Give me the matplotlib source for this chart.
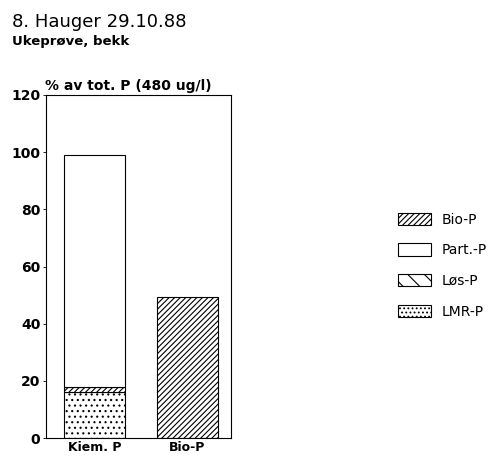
import matplotlib
matplotlib.use("Agg")
import matplotlib.pyplot as plt
from matplotlib.patches import Patch

plt.rcParams['font.family'] = ['DejaVu Sans']
plt.rcParams['hatch.linewidth'] = 0.8

categories = ["Kiem. P", "Bio-P"]
lmr_p = [16, 0]
los_p = [2, 0]
part_p = [81, 0]
bio_p = [0, 49.5]
legend_labels = ["Bio-P", "Part.-P", "Løs-P", "LMR-P"]
yticks = [0, 20, 40, 60, 80, 100, 120]

fig = plt.figure(figsize=(5.01, 4.57), dpi=100)
ax = fig.add_axes([46/501, 1-438/457, (231-46)/501, (438-95)/457])

x = [0, 1]
w = 0.66
ax.bar(x[0], lmr_p[0], w, color='white', edgecolor='black', hatch='...', lw=0.8)
ax.bar(x[0], los_p[0], w, bottom=lmr_p[0], color='white', edgecolor='black', hatch='//////', lw=0.8)
ax.bar(x[0], part_p[0], w, bottom=lmr_p[0]+los_p[0], color='white', edgecolor='black', lw=0.8)
ax.bar(x[1], bio_p[1], w, color='white', edgecolor='black', hatch='//////', lw=0.8)

ax.set_xlim(-0.52, 1.47)
ax.set_ylim(0, 120)
ax.set_yticks(yticks)
ax.set_yticklabels([str(t) for t in yticks], fontsize=10, fontweight='bold')
ax.set_xticks(x)
ax.set_xticklabels(categories, fontsize=9, fontweight='bold')
ax.tick_params(axis='x', length=0, pad=2.5)
ax.tick_params(axis='y', length=2.5, width=0.6, pad=1.5)
for s in ax.spines.values():
    s.set_linewidth(0.8)

fig.text(12/501, 1-22/457, "8. Hauger 29.10.88", fontsize=13, va='center', ha='left')
fig.text(12/501, 1-41/457, "Ukeprøve, bekk", fontsize=9.5, fontweight='bold', va='center', ha='left')
fig.text(45/501, 1-86/457, "% av tot. P (480 ug/l)", fontsize=10, fontweight='bold', va='center', ha='left')

handles = [
    Patch(facecolor='white', edgecolor='black', hatch='//////', lw=0.8),
    Patch(facecolor='white', edgecolor='black', lw=0.8),
    Patch(facecolor='white', edgecolor='black', hatch='\\\\', lw=0.8),
    Patch(facecolor='white', edgecolor='black', hatch='....', lw=0.8),
]
fig.legend(handles, legend_labels, loc='upper left', bbox_to_anchor=(385/501, 1-200/457),
           frameon=False, handlelength=2.4, handleheight=1.0,
           labelspacing=1.2, handletextpad=0.8, prop={'size': 10})

fig.savefig("out.png", dpi=100)
